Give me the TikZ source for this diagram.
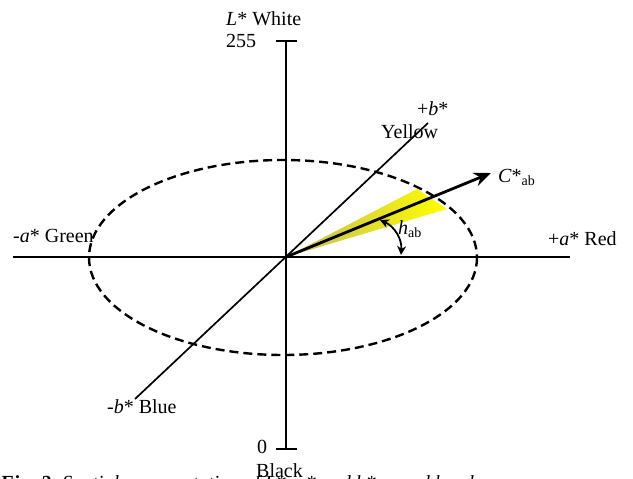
\documentclass[tikz,border=0pt]{standalone}
\usepackage{fontspec}
\setmainfont{Liberation Serif}
\usetikzlibrary{arrows.meta}
\begin{document}
\begin{tikzpicture}[x=1pt,y=-1pt,
  lbl/.style={anchor=base west,inner sep=0pt,font=\fontsize{20}{23}\selectfont},
  axis/.style={line width=1.7pt},
  ell/.style={line width=2.4pt,dash pattern=on 9pt off 5pt},
  chroma/.style={line width=2.8pt,-{Stealth[length=17pt,width=14pt]}},
  hue/.style={line width=1.8pt,{Stealth[length=9pt,width=9pt]}-{Stealth[length=9pt,width=9pt]}}]
\useasboundingbox (0,0) rectangle (633,479);
\clip (0,0) rectangle (633,479);
% coordinates
\coordinate (O) at (286,257);
\coordinate (Ltop) at (286,41);
\coordinate (Lbot) at (286,449);
\coordinate (Aleft) at (13,257);
\coordinate (Aright) at (570,257);
\coordinate (Bneg) at (135,399);
\coordinate (Bpos) at (428,123);
\coordinate (Ctip) at (491,173);
\coordinate (W1) at (417,189);
\coordinate (W2) at (447,209);
\coordinate (H1) at (380,220);
\coordinate (H2) at (401,255);
% wedge
\shade[left color={rgb,255:red,195;green,185;blue,100}, right color=yellow]
  (O) -- (W1) -- (W2) -- cycle;
% ellipse
\draw[ell] (283,257.5) ellipse [x radius=194, y radius=97.5];
% axes
\draw[axis] (Ltop) -- (Lbot);
\draw[axis] (276,41) -- (297,41);
\draw[axis] (276,449) -- (297,449);
\draw[axis] (Aleft) -- (Aright);
\draw[axis] (Bneg) -- (Bpos);
% chroma arrow
\draw[chroma] (O) -- (Ctip);
% hue angle
\draw[hue] (H1) to[bend left=35] (H2);
% labels
\node[lbl] (lw) at (226,25) {\textit{L}* White};
\node[lbl] (l255) at (226,47) {255};
\node[lbl] (l0) at (257,453) {0};
\node[lbl] (lblack) at (256,477) {Black};
\node[lbl] (lbp) at (417,115) {+\textit{b}*};
\node[lbl] (lyel) at (381,138) {Yellow};
\node[lbl] (lc) at (498,182) {\textit{C}*\textsubscript{ab}};
\node[lbl] (lh) at (398,234) {\textit{h}\textsubscript{ab}};
\node[lbl] (lgreen) at (13,242) {-\textit{a}* Green};
\node[lbl] (lred) at (548,245) {+\textit{a}* Red};
\node[lbl] (lblue) at (107,413) {-\textit{b}* Blue};
\node[lbl] (cap) at (0,489) {\textbf{\textit{Fig. 2.}} \textit{Spatial representation of L*, a* and b*, c and h values}};
\end{tikzpicture}
\end{document}
